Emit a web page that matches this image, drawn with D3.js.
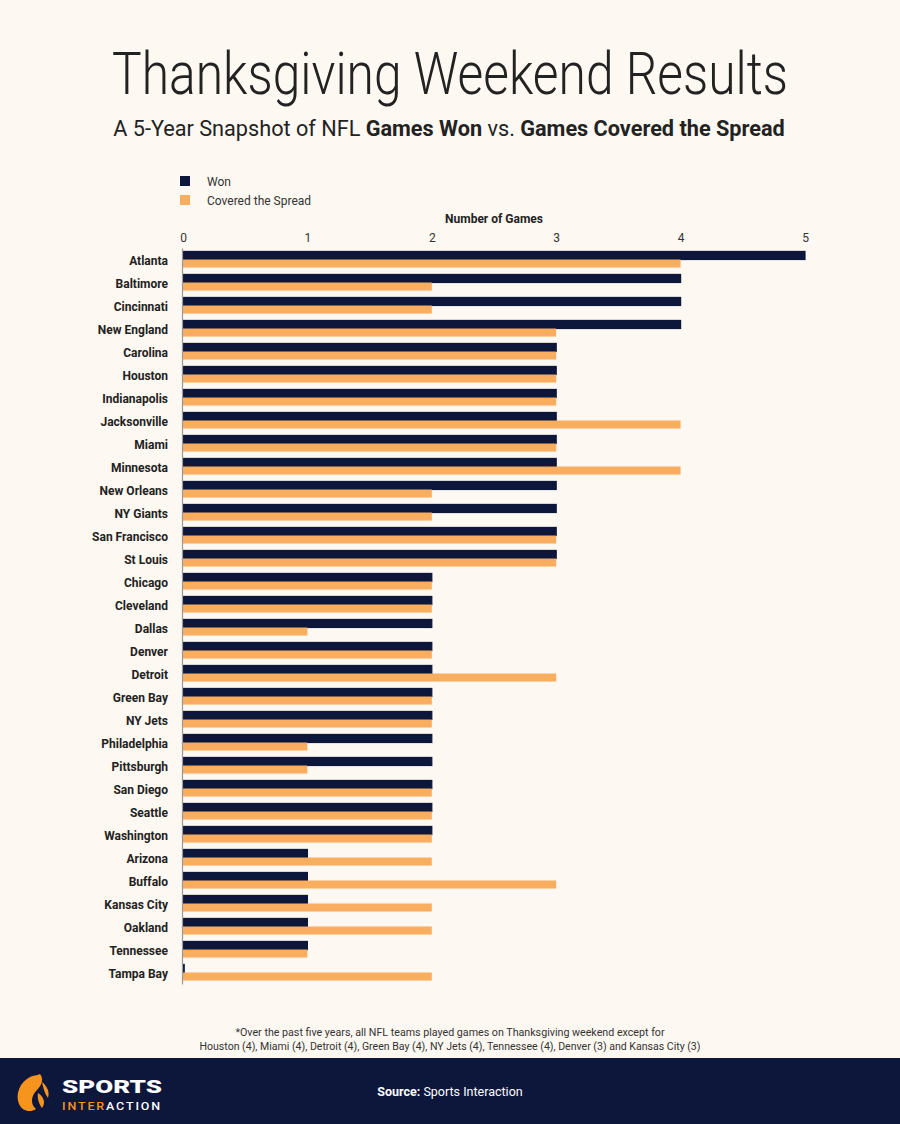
<!DOCTYPE html>
<html><head><meta charset="utf-8">
<script src="https://cdn.jsdelivr.net/npm/d3@7"></script>
<style>
html,body{margin:0;padding:0;background:#fdf8f1;}
svg{display:block;}
</style></head>
<body>
<svg id="chart" width="900" height="1124"></svg>
<script>
const teams = ["Atlanta","Baltimore","Cincinnati","New England","Carolina","Houston","Indianapolis","Jacksonville","Miami","Minnesota","New Orleans","NY Giants","San Francisco","St Louis","Chicago","Cleveland","Dallas","Denver","Detroit","Green Bay","NY Jets","Philadelphia","Pittsburgh","San Diego","Seattle","Washington","Arizona","Buffalo","Kansas City","Oakland","Tennessee","Tampa Bay"];
const won     = [5,4,4,4,3,3,3,3,3,3,3,3,3,3,2,2,2,2,2,2,2,2,2,2,2,2,1,1,1,1,1,0];
const covered = [4,2,2,3,3,3,3,4,3,4,2,2,3,3,2,2,1,2,3,2,2,1,1,2,2,2,2,3,2,2,1,2];
const seriesNames = ["Won","Covered the Spread"];
const xTicks = [0,1,2,3,4,5];

const NAVY = "#0d163b", ORANGE = "#f9ae5f", BG = "#fdf8f1";
const svg = d3.select("#chart");
svg.append("rect").attr("width",900).attr("height",1124).attr("fill",BG);

// scale text horizontally to a target width around anchor x
function fitX(sel, cx, target, allowGrow){
  const w = sel.node().getComputedTextLength();
  const k = allowGrow ? target / w : Math.min(1, target / w);
  sel.attr("transform", `translate(${cx},0) scale(${k},1) translate(${-cx},0)`);
}

// Title
const title = svg.append("text").attr("x",450).attr("y",94).attr("text-anchor","middle")
  .attr("font-family","Roboto").attr("font-weight",300).attr("font-size",60)
  .attr("fill","#222").text("Thanksgiving Weekend Results");
fitX(title, 450, 676);
const sub = svg.append("text").attr("x",449).attr("y",136).attr("text-anchor","middle")
  .attr("font-family","Roboto").attr("font-size",22).attr("fill","#222");
sub.append("tspan").attr("font-weight",400).text("A 5-Year Snapshot of NFL ");
sub.append("tspan").attr("font-weight",700).text("Games Won");
sub.append("tspan").attr("font-weight",400).text(" vs. ");
sub.append("tspan").attr("font-weight",700).text("Games Covered the Spread");
fitX(sub, 449, 672);

// Legend
const leg = svg.append("g");
seriesNames.forEach((n,i)=>{
  leg.append("rect").attr("x",180).attr("y",176+i*19).attr("width",10).attr("height",10)
    .attr("fill", i===0?NAVY:ORANGE);
  leg.append("text").attr("x",207).attr("y",186+i*19).attr("font-family","Roboto")
    .attr("font-size",12).attr("fill","#333").text(n);
});

// Scales
const x = d3.scaleLinear().domain([0,5]).range([183,805]);
const y = d3.scaleBand().domain(teams).range([248,984]).paddingInner(0.3).paddingOuter(0.15);
const sub2 = d3.scaleBand().domain(["won","covered"]).range([0,y.bandwidth()]);

// Axis title
svg.append("text").attr("x",494).attr("y",223).attr("text-anchor","middle")
  .attr("font-family","Roboto").attr("font-weight",700).attr("font-size",12).attr("fill","#222")
  .text("Number of Games");

// Top axis
const xAxis = svg.append("g").attr("transform","translate(0,242)")
  .call(d3.axisTop(x).tickValues(xTicks).tickSize(0).tickPadding(0).tickFormat(d3.format("d")));
xAxis.select(".domain").remove();
xAxis.selectAll("text").attr("font-family","Roboto").attr("font-size",12).attr("fill","#333");

// Bars
const rows = svg.append("g");
teams.forEach((t,i)=>{
  rows.append("rect").attr("x",x(0)).attr("y",y(t)+sub2("won"))
    .attr("width",Math.max(1.2,x(won[i])-x(0))).attr("height",sub2.bandwidth())
    .attr("fill",NAVY).attr("stroke",NAVY).attr("stroke-width",1.2);
  rows.append("rect").attr("x",x(0)).attr("y",y(t)+sub2("covered"))
    .attr("width",x(covered[i])-x(0)).attr("height",sub2.bandwidth())
    .attr("fill",ORANGE);
});

// Y axis
const yAxis = svg.append("g").attr("transform","translate(182,0)")
  .call(d3.axisLeft(y).tickSize(0).tickPadding(14));
yAxis.select(".domain").attr("stroke","#999").attr("stroke-width",1.2);
yAxis.selectAll("text").attr("font-family","Roboto").attr("font-weight",700)
  .attr("font-size",12).attr("fill","#222").attr("dy","0.42em");

// Footnote
const fn = ["*Over the past five years, all NFL teams played games on Thanksgiving weekend except for",
  "Houston (4), Miami (4), Detroit (4), Green Bay (4), NY Jets (4), Tennessee (4), Denver (3) and Kansas City (3)"];
fn.forEach((l,i)=>{
  const t = svg.append("text").attr("x",450).attr("y",1036+i*14).attr("text-anchor","middle")
    .attr("font-family","Roboto").attr("font-size",10.5).attr("fill","#333").text(l);
  fitX(t, 450, i===0?430:502, true);
});

// Footer
svg.append("rect").attr("x",0).attr("y",1058).attr("width",900).attr("height",66).attr("fill",NAVY);
const src = svg.append("text").attr("x",450).attr("y",1096).attr("text-anchor","middle")
  .attr("font-family","Roboto").attr("font-size",12.5).attr("fill","#fff");
src.append("tspan").attr("font-weight",700).text("Source:");
src.append("tspan").text(" Sports Interaction");

// Logo
const logo = svg.append("g");
logo.append("path").attr("d","M30,1077 C20,1082 15,1094 19,1104 C22,1111 30,1113 36,1109 C30,1104 31,1096 37,1090 C42,1085 44,1079 40,1074 C37,1076 33,1075 30,1077 Z").attr("fill","#f7941d");
logo.append("path").attr("d","M42,1082 C47,1086 50,1092 48,1098 C45,1094 43,1088 42,1082 Z M38,1093 C44,1097 46,1103 42,1108 C39,1104 37,1098 38,1093 Z").attr("fill","#f7941d");
const ls = logo.append("text").attr("x",62).attr("y",1093).attr("font-family","Roboto").attr("font-weight",900)
  .attr("font-size",19).attr("fill","#fff").text("SPORTS");
fitX(ls, 62, 100, true);
const li = logo.append("text").attr("x",62).attr("y",1110).attr("font-family","Roboto").attr("font-weight",500)
  .attr("font-size",10).attr("letter-spacing",1.5);
li.append("tspan").attr("fill","#f7941d").text("INTER");
li.append("tspan").attr("fill","#fff").text("ACTION");
fitX(li, 62, 100, true);
</script>
</body></html>
